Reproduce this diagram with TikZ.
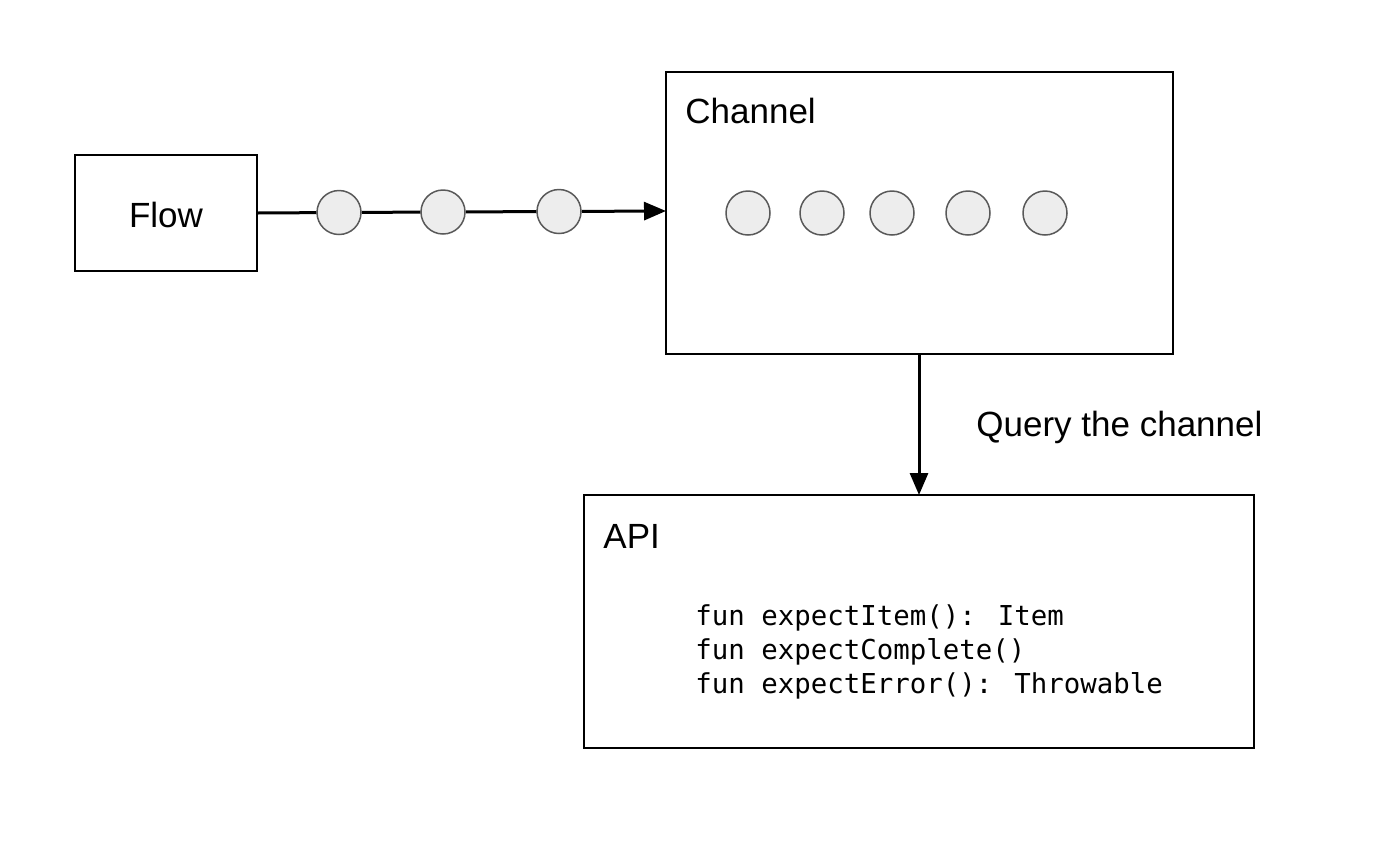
\documentclass[tikz,border=0pt]{standalone}
\usepackage{fontspec}
\setmainfont{Liberation Sans}
\newfontfamily\codefont{DejaVu Sans Mono}
\usetikzlibrary{arrows.meta}
\begin{document}
\begin{tikzpicture}[x=0.5pt,y=-0.5pt,
  box/.style={draw=black, line width=0.75pt, fill=white, rectangle, inner sep=0pt},
  ball/.style={draw=black!65, line width=0.75pt, fill=black!7, circle, inner sep=0pt, minimum size=22pt},
  conn/.style={line width=1.5pt, draw=black},
  arr/.style={conn, -{Triangle[length=11pt,width=9pt]}},
  lbl/.style={font=\fontsize{17.5pt}{21pt}\selectfont, inner sep=0pt, anchor=base west},
  code/.style={font=\codefont\fontsize{13.7pt}{17pt}\selectfont, inner sep=0pt, anchor=base west}
]
\useasboundingbox (0,0) rectangle (1400,847);
% boxes
\node[box, minimum width=91pt, minimum height=58pt] (flow) at (166,213) {};
\node[lbl, anchor=base] (flowtxt) at (166,227) {Flow};
\node[box, minimum width=253.5pt, minimum height=141pt] (chan) at (919.5,213) {};
\node[lbl] (chantxt) at (685,123) {Channel};
\node[box, minimum width=335pt, minimum height=126.5pt] (api) at (919,621.5) {};
\node[lbl] (apitxt) at (603,548) {API};
\node[code] (l1) at (695,625) {fun expectItem(): Item};
\node[code] (l2) at (695,659) {fun expectComplete()};
\node[code] (l3) at (695,693) {fun expectError(): Throwable};
\node[lbl] (qtxt) at (976,436) {Query the channel};
% circles on the stream
\node[ball] (c1) at (339,212.5) {};
\node[ball] (c2) at (443,212) {};
\node[ball] (c3) at (559,211.5) {};
\coordinate (chin) at (666,211);
\coordinate (fout) at (257,213);
\draw[conn] (fout) -- (c1);
\draw[conn] (c1) -- (c2);
\draw[conn] (c2) -- (c3);
\draw[arr] (c3) -- (chin);
% circles in channel
\node[ball] (d1) at (748,213) {};
\node[ball] (d2) at (822,213) {};
\node[ball] (d3) at (892,213) {};
\node[ball] (d4) at (968,213) {};
\node[ball] (d5) at (1045,213) {};
% query arrow
\coordinate (qs) at (919,354);
\coordinate (qe) at (919,495);
\draw[arr] (qs) -- (qe);
\end{tikzpicture}
\end{document}
